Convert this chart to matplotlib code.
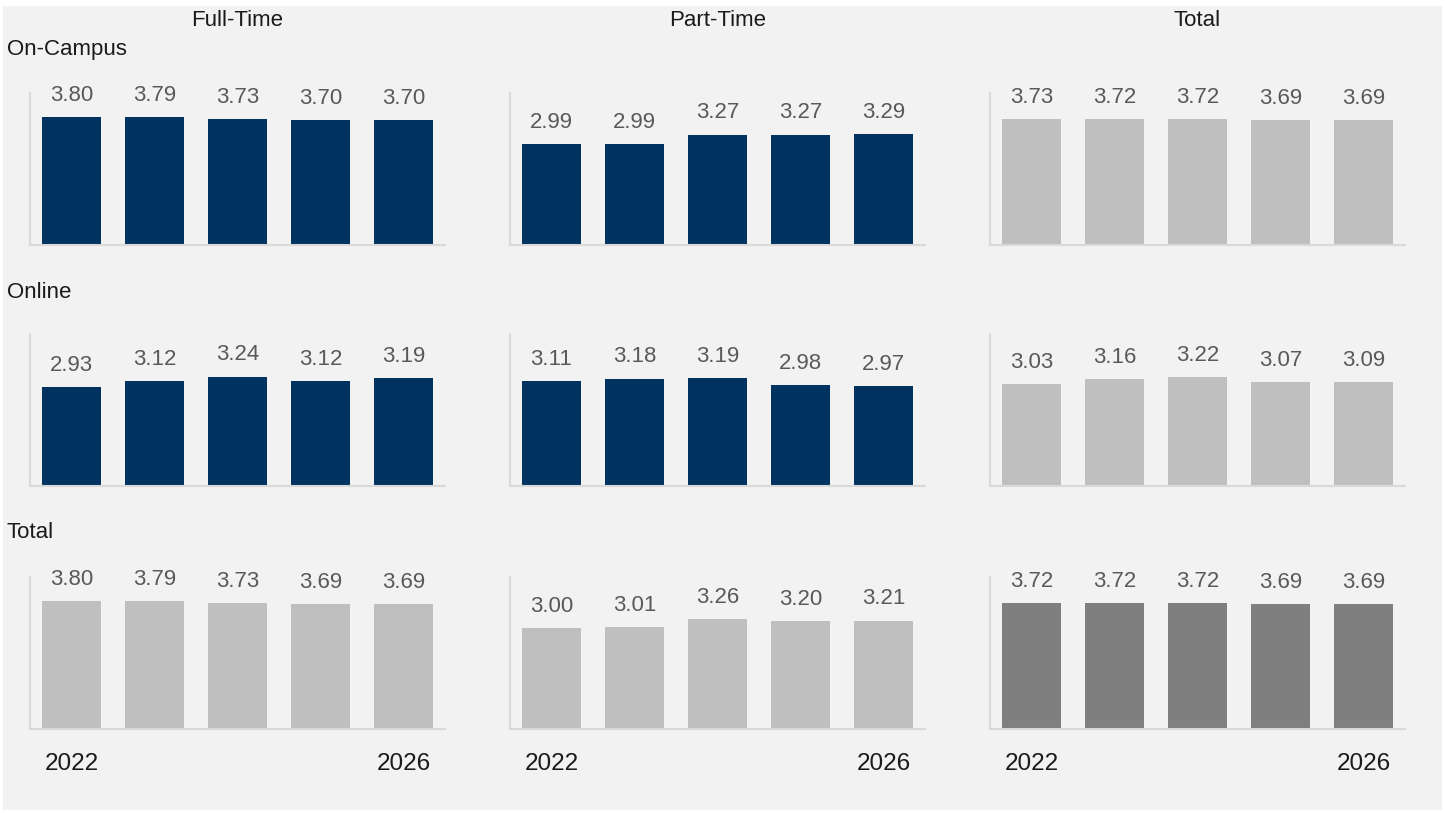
import matplotlib.pyplot as plt
from matplotlib.patches import Rectangle

years = [2022, 2023, 2024, 2025, 2026]
col_titles = ['Full-Time', 'Part-Time', 'Total']
row_titles = ['On-Campus', 'Online', 'Total']

on_campus_ft = [3.80, 3.79, 3.73, 3.70, 3.70]
on_campus_pt = [2.99, 2.99, 3.27, 3.27, 3.29]
on_campus_tot = [3.73, 3.72, 3.72, 3.69, 3.69]
online_ft = [2.93, 3.12, 3.24, 3.12, 3.19]
online_pt = [3.11, 3.18, 3.19, 2.98, 2.97]
online_tot = [3.03, 3.16, 3.22, 3.07, 3.09]
total_ft = [3.80, 3.79, 3.73, 3.69, 3.69]
total_pt = [3.00, 3.01, 3.26, 3.20, 3.21]
total_tot = [3.72, 3.72, 3.72, 3.69, 3.69]

grid = [[on_campus_ft, on_campus_pt, on_campus_tot],
        [online_ft, online_pt, online_tot],
        [total_ft, total_pt, total_tot]]

navy = '#00335f'
light = '#bfbfbf'
dark = '#7f7f7f'
colors = [[navy, navy, light],
          [navy, navy, light],
          [light, light, dark]]

plt.rcParams['font.family'] = ['Liberation Sans', 'DejaVu Sans']

W, H = 1445, 813
fig = plt.figure(figsize=(W / 100, H / 100), dpi=100, facecolor='white')
fig.patches.append(Rectangle((3 / W, 1 - 810 / H), 1439 / W, 804 / H,
                             transform=fig.transFigure, facecolor='#f2f2f2',
                             edgecolor='none', zorder=-10))

col_left = [30, 510, 990]
row_bottom = [245, 486, 729]
ax_w = 415
ax_h = 152

for r in range(3):
    for c in range(3):
        ax = fig.add_axes([col_left[c] / W, 1 - row_bottom[r] / H, ax_w / W, ax_h / H])
        ax.set_facecolor('none')
        vals = grid[r][c]
        x = list(range(len(years)))
        bars = ax.bar(x, vals, width=0.71, color=colors[r][c])
        for b, v in zip(bars, vals):
            ax.annotate(f'{v:.2f}', (b.get_x() + b.get_width() / 2, v),
                        xytext=(0, 8), textcoords='offset points',
                        ha='center', va='bottom', fontsize=16, color='#595959')
        ax.set_xlim(-0.5, 4.5)
        ax.set_ylim(0, 4.5)
        ax.set_yticks([])
        for s in ['top', 'right']:
            ax.spines[s].set_visible(False)
        for s in ['left', 'bottom']:
            ax.spines[s].set_color('#d9d9d9')
            ax.spines[s].set_linewidth(1.5)
        if r == 2:
            ax.set_xticks([0, 4])
            ax.set_xticklabels([str(years[0]), str(years[-1])], fontsize=17.5, color='#1a1a1a')
            ax.tick_params(axis='x', length=0, pad=17)
        else:
            ax.set_xticks([])

for c, t in enumerate(col_titles):
    fig.text((col_left[c] + ax_w / 2) / W, 1 - 20 / H, t, ha='center', va='center',
             fontsize=16, color='#1a1a1a')

for r, t in enumerate(row_titles):
    y = [50, 293, 533][r]
    fig.text(7 / W, 1 - y / H, t, ha='left', va='center', fontsize=16, color='#1a1a1a')

fig.savefig('out.png', dpi=100, facecolor=fig.get_facecolor())
